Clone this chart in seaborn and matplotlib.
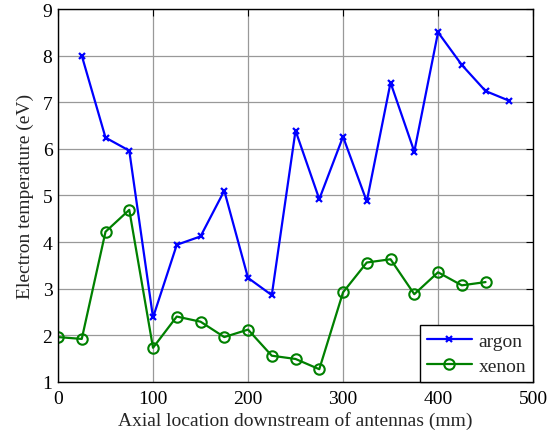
import matplotlib
matplotlib.use("Agg")
import matplotlib.pyplot as plt
import seaborn as sns
import pandas as pd

# Axial positions (mm) and measured electron temperatures (eV)
argon_x = [25, 50, 75, 100, 125, 150, 175, 200, 225, 250, 275, 300, 325, 350, 375, 400, 425, 450, 475]
argon_te = [8.00, 6.24, 5.96, 2.38, 3.94, 4.12, 5.10, 3.23, 2.86, 6.39, 4.92, 6.26, 4.87, 7.42, 5.94, 8.50, 7.80, 7.24, 7.03]

xenon_x = [0, 25, 50, 75, 100, 125, 150, 175, 200, 225, 250, 275, 300, 325, 350, 375, 400, 425, 450]
xenon_te = [1.96, 1.92, 4.22, 4.69, 1.73, 2.40, 2.29, 1.96, 2.12, 1.56, 1.49, 1.27, 2.92, 3.56, 3.63, 2.88, 3.35, 3.07, 3.14]

x_ticks = [0, 100, 200, 300, 400, 500]
y_ticks = [1, 2, 3, 4, 5, 6, 7, 8, 9]

sns.set_style("white")
plt.rcParams["font.family"] = ["Liberation Serif", "DejaVu Serif"]
plt.rcParams["font.serif"] = ["Liberation Serif", "DejaVu Serif"]
plt.rcParams["font.size"] = 14

fig = plt.figure(figsize=(5.54, 4.35), dpi=100)
ax = fig.add_axes([0.1047, 0.120, 0.8575, 0.857])

df_ar = pd.DataFrame({"x": argon_x, "te": argon_te})
df_xe = pd.DataFrame({"x": xenon_x, "te": xenon_te})

blue = (0, 0, 1)
green = (0, 0.5, 0)
sns.lineplot(data=df_ar, x="x", y="te", ax=ax, color=blue, lw=1.6,
             marker="x", markersize=4, markeredgewidth=1.6,
             markeredgecolor=blue, label="argon")
sns.lineplot(data=df_xe, x="x", y="te", ax=ax, color=green, lw=1.6,
             marker="o", markersize=7.5, markeredgewidth=1.5,
             markerfacecolor="none", markeredgecolor=green, label="xenon")

ax.set_xlim(0, 500)
ax.set_ylim(1, 9)
ax.set_xticks(x_ticks)
ax.set_yticks(y_ticks)
ax.set_xticklabels([str(t) for t in x_ticks], fontfamily="Liberation Serif")
ax.set_yticklabels([str(t) for t in y_ticks], fontfamily="Liberation Serif")
ax.grid(True, color="#999999", lw=0.9, ls="-")
ax.set_axisbelow(True)
for s in ax.spines.values():
    s.set_color("black")
    s.set_linewidth(1.0)
ax.tick_params(direction="in", top=True, right=True, length=5, width=0.8,
               labelsize=14, colors="black")
ax.tick_params(axis="x", pad=6)
ax.tick_params(axis="y", pad=4)

ax.set_xlabel("Axial location downstream of antennas (mm)", fontsize=14, labelpad=3)
ax.set_ylabel("Electron temperature (eV)", fontsize=14, labelpad=6)

leg = ax.legend(loc="lower right", fancybox=False, frameon=True, edgecolor="black",
                framealpha=1, borderaxespad=0, handlelength=2.3, fontsize=14,
                borderpad=0.35, labelspacing=0.4, handletextpad=0.35)
leg.get_frame().set_linewidth(1.0)

fig.savefig("out.png", dpi=100)
